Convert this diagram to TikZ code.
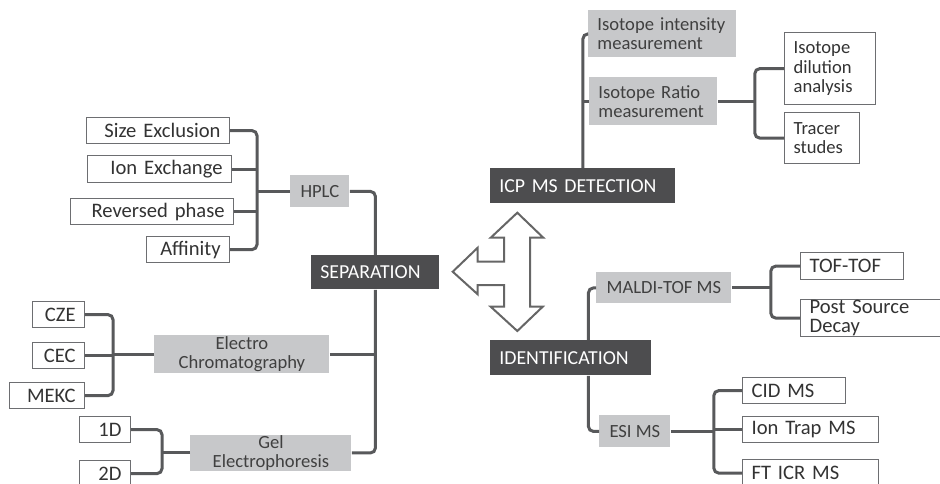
\documentclass[tikz,border=0pt]{standalone}
\usepackage{fontspec}
\setmainfont{Carlito}
\hyphenpenalty=10000
\exhyphenpenalty=10000

\definecolor{linegray}{HTML}{58595B}
\definecolor{edgegray}{HTML}{6D6E71}
\definecolor{lightfill}{HTML}{C7C8CA}
\definecolor{darkfill}{HTML}{4D4D4F}
\definecolor{txtgray}{HTML}{333333}

\tikzset{
  % box sizes are given in picture units (0.5pt)
  wh/.style 2 args={minimum width=#1*0.5pt, minimum height=#2*0.5pt},
  tw/.code 2 args={\pgfmathsetlengthmacro\boxtw{(#1-18)*0.5pt}%
    \pgfmathsetlengthmacro\boxht{#2*0.5pt}%
    \edef\twopts{\noexpand\pgfkeysalso{text width=\boxtw, minimum height=\boxht}}\twopts},
  box/.style={anchor=north west, inner xsep=4.5pt, inner ysep=0pt},
  leaf/.style={box, draw=edgegray, line width=0.6pt, fill=white, text=txtgray,
    font=\fontsize{10.3}{9.8}\selectfont},
  grp/.style={box, fill=lightfill, text=black!75, font=\fontsize{9.3}{9.6}\selectfont},
  main/.style={box, fill=darkfill, text=white, align=left, font=\fontsize{9.9}{10}\selectfont},
  conn/.style={linegray, line width=1.5pt, rounded corners=2.5pt},
  arrowline/.style={draw=black!60, line width=1pt, fill=white},
}

\begin{document}
\begin{tikzpicture}[x=0.5pt, y=-0.5pt]
\useasboundingbox (0,0) rectangle (940,483);
\clip (0,0) rectangle (940,483);

\node[main, tw={128}{34}] (sep) at (311,255) {SEPARATION};
\node[grp, wh={59}{32}] (hplc) at (290,175) {HPLC};
\node[grp, wh={175}{38}, align=center] (electro) at (154,335) {Electro\\Chromatography};
\node[grp, wh={161}{34}, align=center] (gel) at (190,435) {Gel\\Electrophoresis};
\node[leaf, tw={143}{26}, align=right] (size) at (86,117) {Size Exclusion};
\node[leaf, tw={144}{27}, align=right] (ion) at (87,155) {Ion Exchange};
\node[leaf, tw={163}{26}, align=right] (rev) at (70,198) {Reversed phase};
\node[leaf, tw={83}{26}, align=right] (aff) at (146,236) {Affinity};
\node[leaf, tw={52}{26}, align=right] (cze) at (32,301) {CZE};
\node[leaf, tw={52}{26}, align=right] (cec) at (32,342) {CEC};
\node[leaf, tw={75}{26}, align=right] (mekc) at (9,382) {MEKC};
\node[leaf, tw={51}{26}, align=right] (oned) at (79,416) {1D};
\node[leaf, tw={51}{26}, align=right] (twod) at (79,460) {2D};

\node[main, tw={185}{35}] (icp) at (490,168) {ICP MS DETECTION};
\node[grp, tw={148}{47}, align=left] (intens) at (588,10) {Isotope intensity\\measurement};
\node[grp, tw={128}{48}, align=left] (ratio) at (589,77) {Isotope Ratio\\measurement};
\node[leaf, tw={91}{72}, align=left, font=\fontsize{9.3}{9.8}\selectfont] (dilution) at (784,32) {Isotope\\dilution\\analysis};
\node[leaf, tw={75}{51}, align=left, font=\fontsize{9.3}{9.8}\selectfont] (tracer) at (784,112) {Tracer\\studes};

\node[main, tw={161}{35}] (ident) at (490,340) {IDENTIFICATION};
\node[grp, wh={135}{31}] (maldi) at (596,272) {MALDI-TOF MS};
\node[grp, wh={71}{32}] (esi) at (599,415) {ESI MS};
\node[leaf, tw={103}{27}, align=left] (tof) at (800,252) {TOF-TOF};
\node[leaf, tw={150}{37}, align=left] (psd) at (800,299) {Post Source\\Decay};
\node[leaf, tw={103}{26}, align=left] (cid) at (742,377) {CID MS};
\node[leaf, tw={136}{26}, align=left] (trap) at (742,416) {Ion Trap MS};
\node[leaf, tw={136}{27}, align=left] (fticr) at (742,459) {FT ICR MS};

% separation tree
\draw[conn] (hplc.west) -- ++(-33,0) coordinate (hj);
\draw[conn] (size.east) -| (hj) |- (aff.east);
\draw[conn] (ion.east) -- (ion.east -| hj);
\draw[conn] (rev.east) -- (rev.east -| hj);
\draw[conn] (hplc.east) -| (sep.north);
\draw[conn] (electro.west) -- ++(-41,0) coordinate (ej);
\draw[conn] (cze.east) -| (ej) |- (mekc.east);
\draw[conn] (cec.east) -- (cec.east -| ej);
\draw[conn] (electro.east) -- (electro.east -| sep.south);
\draw[conn] (gel.west) -- ++(-28,0) coordinate (gj);
\draw[conn] (oned.east) -| (gj) |- (twod.east);
\draw[conn] (gel.east) -| (sep.south);

% detection tree
\draw[conn] (intens.west) -| (icp.north);
\draw[conn] (ratio.west) -- (ratio.west -| icp.north);
\draw[conn] (ratio.east) -- ++(37,0) coordinate (rj);
\draw[conn] (dilution.west) -| (rj) |- (tracer.west);

% identification tree
\draw[conn] (maldi.west) -| ([xshift=8.75pt]ident.north);
\draw[conn] ([xshift=8.75pt]ident.south) |- (esi.west);
\draw[conn] (maldi.east) -- ++(39,0) coordinate (mj);
\draw[conn] (tof.west) -| (mj) |- (psd.west);
\draw[conn] (esi.east) -- ++(43,0) coordinate (sj);
\draw[conn] (cid.west) -| (sj) |- (fticr.west);
\draw[conn] (trap.west) -- (trap.west -| sj);

% three-way arrow
\draw[arrowline] (517.3,212.7) -- (543.3,237.7) -- (530,237.7) -- (530,306.7)
  -- (542.7,306.7) -- (517.3,331) -- (490.7,306.7) -- (504,306.7) -- (504,285)
  -- (477.7,285) -- (477.7,294.3) -- (452.7,271.7) -- (477.7,247.7) -- (477.7,261.7)
  -- (504,261.7) -- (504,237.7) -- (490.7,237.7) -- cycle;
\end{tikzpicture}
\end{document}
